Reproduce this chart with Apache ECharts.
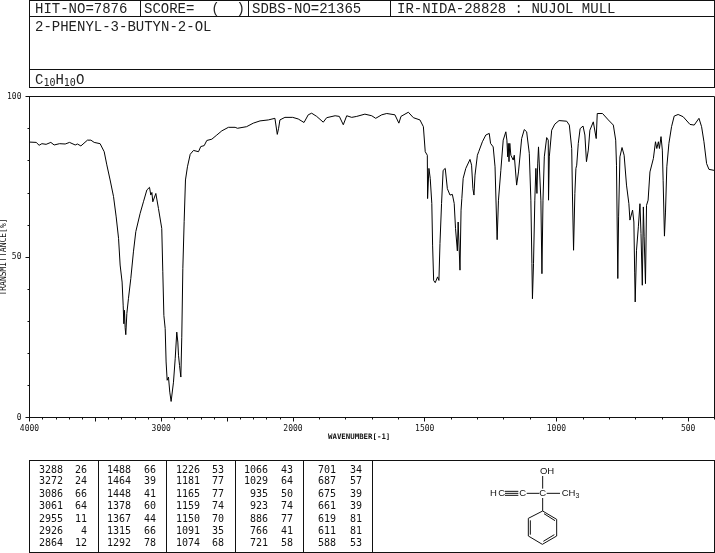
<!DOCTYPE html>
<html><head><meta charset="utf-8">
<style>html,body{margin:0;padding:0;background:#fff}#c{width:715px;height:553px}</style>
<script src="https://cdn.jsdelivr.net/npm/echarts@6/dist/echarts.min.js"></script>
</head><body><div id="c"></div>
<script>
var wavenumbers=[4000,3949,3927,3906,3874,3838,3813,3772,3729,3696,3653,3636,3610,3560,3534,3509,3464,3433,3413,3388,3362,3342,3324,3312,3297,3289,3284,3279,3274,3269,3261,3249,3231,3211,3193,3160,3135,3109,3089,3079,3071,3064,3049,3041,3034,3021,3006,2996,2988,2980,2970,2963,2955,2945,2935,2925,2917,2907,2894,2882,2874,2869,2861,2851,2844,2836,2826,2816,2801,2780,2755,2717,2700,2674,2654,2616,2578,2540,2490,2439,2421,2406,2352,2301,2250,2187,2137,2129,2119,2109,2099,2061,2002,1980,1958,1942,1929,1910,1885,1872,1840,1824,1809,1796,1777,1758,1727,1701,1686,1663,1644,1613,1598,1590,1562,1543,1518,1505,1498,1490,1489,1484,1480,1479,1473,1470,1466,1460,1451,1446,1442,1436,1430,1422,1414,1404,1395,1388,1383,1376,1373,1369,1366,1362,1359,1354,1344,1328,1322,1317,1313,1309,1300,1295,1290,1281,1268,1255,1250,1240,1233,1226,1225,1220,1211,1202,1192,1188,1185,1183,1180,1177,1173,1168,1164,1160,1151,1144,1132,1122,1113,1103,1097,1093,1091,1087,1082,1078,1074,1071,1068,1063,1059,1055,1051,1046,1037,1031,1030,1027,1018,1006,990,961,951,942,939,935,930,926,923,917,910,899,892,886,879,873,860,854,849,845,825,803,784,775,772,767,764,759,751,743,734,725,721,715,711,706,703,701,696,689,683,679,674,670,667,662,658,652,645,632,624,619,613,609,603,598,595,590,586,581,573,563,553,538,519,493,477,459,449,440,430,421,402];
var transmittance=[85.8,85.7,84.8,85.3,85.1,85.7,84.9,85.3,85.2,85.7,84.9,85.2,84.6,86.4,86.4,85.7,85.3,82.8,78.7,74,68.8,62.5,55.8,47.5,42.2,35,29.2,33.4,28,25.8,32.4,37,43.3,51.6,57.9,63.6,67.2,70.9,71.7,69.3,70.1,67.2,67.2,69.8,69.3,65.1,64.6,58.9,45.4,31.8,27.7,17.3,11.6,12.6,7.9,5,5.6,11,18.3,26.6,23.5,19.4,16.2,12.6,25,46.4,61,74,78.1,82,83.2,82.8,84.4,84.7,86.3,86.7,88,89.3,90.4,90.4,90.1,90.4,90.6,91.7,92.4,92.7,93.2,93,88.2,90.1,92.7,93.5,93.5,93,91.9,94.3,94.8,93.8,92,93.4,94,93.8,91.2,94,93.5,93.8,94.5,94,93.2,94.3,94.7,94.3,91.7,93.8,95.1,93.4,92.7,90.6,82.8,81.7,68.2,77.6,77.6,74.5,66.7,53.7,42.7,42,43.8,42.7,54.2,66.7,77,77.6,71.3,69.3,69.5,66.7,58.9,51.9,60.9,60.4,45.9,64.6,68.2,74.5,77.6,80.4,78.6,71.3,69.3,75.5,81.7,82.8,83.3,85.9,88,88.5,85.4,84.3,78.1,57.8,55.4,67.7,77,86.4,89,86.4,81.2,85.4,79.7,85.4,81.7,81.7,80.2,81.7,72.4,76.5,86.9,89.7,89,82.3,67.7,47.9,37,47.9,67.7,77.6,69.8,79,84.3,83.8,67.7,44.8,67.7,81.2,87.2,86.4,67.7,81.2,89.5,91.4,92.5,92.3,91.1,83.8,68.7,52.1,69.8,77.6,78.6,85.4,90,90.8,88,79.7,83.3,89.5,92.1,92.5,86.9,94.7,94.7,92.7,91.1,86.4,78.6,43.3,62.5,81.2,84.1,81.7,72.4,66.6,61.5,62,64.6,60.9,45.3,36,52.1,59.4,66.6,57.3,41.2,65.6,56.3,41.7,66.1,67.7,76.5,80.7,85.9,83.8,85.9,83.8,87.5,83.3,73.9,56.5,64,78.1,85.4,90.6,93.9,94.4,93.7,91.3,91.1,93.2,90.6,85.9,79.1,77.3,77];
var majorTicks=[4000,3500,3000,2500,2000,1500,1000,500];
var tickLabels=[4000,3000,2000,1500,1000,500];
var minorTicks=[4000,3900,3800,3700,3600,3500,3400,3300,3200,3100,3000,2900,2800,2700,2600,2500,2400,2300,2200,2100,2000,1900,1800,1700,1600,1500,1400,1300,1200,1100,1000,900,800,700,600,500,400];
var yMajor=[0,50,100];
var yMinor=[0,10,20,30,40,50,60,70,80,90,100];
var peakWave=[3288,3272,3086,3061,2955,2926,2864,1488,1464,1448,1378,1367,1315,1292,1226,1181,1165,1159,1150,1091,1074,1066,1029,935,923,886,766,721,701,687,675,661,619,611,588];
var peakT=[26,24,66,64,11,4,12,66,39,41,60,44,66,78,53,77,77,74,70,35,68,43,64,50,74,77,41,58,34,57,39,39,81,81,53];
var headerCells=["HIT-NO=7876","SCORE=  (  )","SDBS-NO=21365","IR-NIDA-28828 : NUJOL MULL"];
var compoundName="2-PHENYL-3-BUTYN-2-OL";

function toAxis(w){return w>=2000?(4000-w)/2:1000+(2000-w);}
function fromAxis(u){return u<=1000?4000-u*2:2000-(u-1000);}
var INK='#111';
var MONO='"DejaVu Sans Mono","Liberation Mono",monospace';
var HEAD='"Liberation Mono","DejaVu Sans Mono",monospace';
var g=[];
function line(x1,y1,x2,y2,w){g.push({type:'line',silent:true,shape:{x1:x1,y1:y1,x2:x2,y2:y2},style:{stroke:INK,lineWidth:w||1}});}
function text(x,y,t,o){o=o||{};g.push({type:'text',silent:true,x:x,y:y,rotation:o.rot||0,style:{text:t,fill:o.fill||INK,font:(o.weight||'normal')+' '+(o.size||10)+'px '+(o.family||MONO),textAlign:o.align||'left',textVerticalAlign:'middle',rich:o.rich}});}

// header frame
line(29.5,0.5,714.5,0.5);line(29.5,16.5,714.5,16.5);line(29.5,69.5,714.5,69.5);line(29.5,87.5,714.5,87.5);
line(29.5,0,29.5,88);line(714.5,0,714.5,88);
[140.5,248.5,390.5].forEach(function(x){line(x,0,x,17);});
var headX=[35,144,252,397];
headerCells.forEach(function(t,i){text(headX[i],9,t,{size:14,family:HEAD,fill:'#222'});});
text(35,27.5,compoundName,{size:14,family:HEAD,fill:'#222'});
g.push({type:'text',silent:true,x:35,y:80,style:{text:'C{s|10}H{s|10}O',fill:'#222',font:'14px '+HEAD,textVerticalAlign:'middle',rich:{s:{font:'10px '+MONO,fill:'#222',padding:[6,0,0,0]}}}});

// axis names
text(328,437,'WAVENUMBER[-1]',{size:7.4,weight:'bold',family:MONO});
text(3.5,257,'TRANSMITTANCE[%]',{size:8,family:MONO,rot:Math.PI/2,align:'center'});

// peak table
line(29.5,460.5,714.5,460.5);line(29.5,552.5,714.5,552.5);
[29.5,98.5,166.5,235.5,303.5,372.5,714.5].forEach(function(x){line(x,460,x,553);});
var colWaveEnd=[63,131,200,268,336];
var colTEnd=[87,156,224,293,362];
var rowY=[470,481.8,494,506.5,519,531,543.5];
peakWave.forEach(function(w,i){
  var c=Math.floor(i/7),r=i%7;
  text(colWaveEnd[c],rowY[r],String(w),{size:10,align:'right'});
  text(colTEnd[c],rowY[r],String(peakT[i]),{size:10,align:'right'});
});

// structure
var X=function(z){return 370+z/3;},Y=function(z){return 410+z/3;};
function bond(a,b,c,d){line(X(a),Y(b),X(c),Y(d));}
var CHEM='"Liberation Sans",sans-serif';
text(X(531),Y(183),'OH',{size:9.5,family:CHEM,align:'center'});
text(X(370),Y(250),'H',{size:9.5,family:CHEM,align:'center'});
text(X(395),Y(250),'C',{size:9.5,family:CHEM,align:'center'});
text(X(458),Y(250),'C',{size:9.5,family:CHEM,align:'center'});
text(X(518),Y(250),'C',{size:9.5,family:CHEM,align:'center'});
g.push({type:'text',silent:true,x:X(575),y:Y(251),style:{text:'CH{s|3}',fill:INK,font:'9.5px '+CHEM,textVerticalAlign:'middle',rich:{s:{font:'7px '+CHEM,fill:INK,padding:[4,0,0,0]}}}});
[244,250,256].forEach(function(y){bond(405,y,445,y);});
bond(470,250,508,250);bond(530,250,570,250);bond(518,198,518,236);bond(518,264,518,303);
bond(518,303,560,328);bond(560,328,560,378);bond(560,378,517,403);bond(517,403,475,378);bond(475,378,475,325);bond(475,325,518,303);
bond(522,311,555,332);bond(553,374,520,394);bond(481,331,481,374);

var xBase={type:'value',gridIndex:0,min:0,max:2600,position:'bottom',splitLine:{show:false},axisLine:{onZero:false,lineStyle:{color:INK,width:1}}};
var yBase={type:'value',gridIndex:0,min:0,max:100,position:'left',splitLine:{show:false},axisLine:{onZero:false,lineStyle:{color:INK,width:1}}};
var option={
  animation:false,backgroundColor:'#fff',
  grid:{left:29.5,top:96.5,width:685,height:321,show:true,borderColor:INK,borderWidth:1,backgroundColor:'transparent'},
  xAxis:[
    Object.assign({},xBase,{axisTick:{show:true,length:4,lineStyle:{color:INK},customValues:majorTicks.map(toAxis)},
      axisLabel:{show:true,margin:7,color:INK,fontFamily:MONO,fontSize:8,customValues:tickLabels.map(toAxis),formatter:function(v){return String(Math.round(fromAxis(v)));}}}),
    Object.assign({},xBase,{axisTick:{show:true,length:2,lineStyle:{color:INK},customValues:minorTicks.map(toAxis)},axisLabel:{show:false}})
  ],
  yAxis:[
    Object.assign({},yBase,{axisTick:{show:true,length:4,lineStyle:{color:INK},customValues:yMajor},
      axisLabel:{show:true,margin:8,color:INK,fontFamily:MONO,fontSize:8,customValues:yMajor}}),
    Object.assign({},yBase,{axisTick:{show:true,length:2,lineStyle:{color:INK},customValues:yMinor},axisLabel:{show:false}})
  ],
  series:[{type:'line',xAxisIndex:0,yAxisIndex:0,showSymbol:false,symbol:'none',silent:true,clip:true,
    lineStyle:{color:'#000',width:1},
    data:wavenumbers.map(function(w,i){return [toAxis(w),transmittance[i]];})}],
  graphic:g
};
echarts.init(document.getElementById('c'),null,{renderer:'canvas'}).setOption(option);
</script></body></html>
